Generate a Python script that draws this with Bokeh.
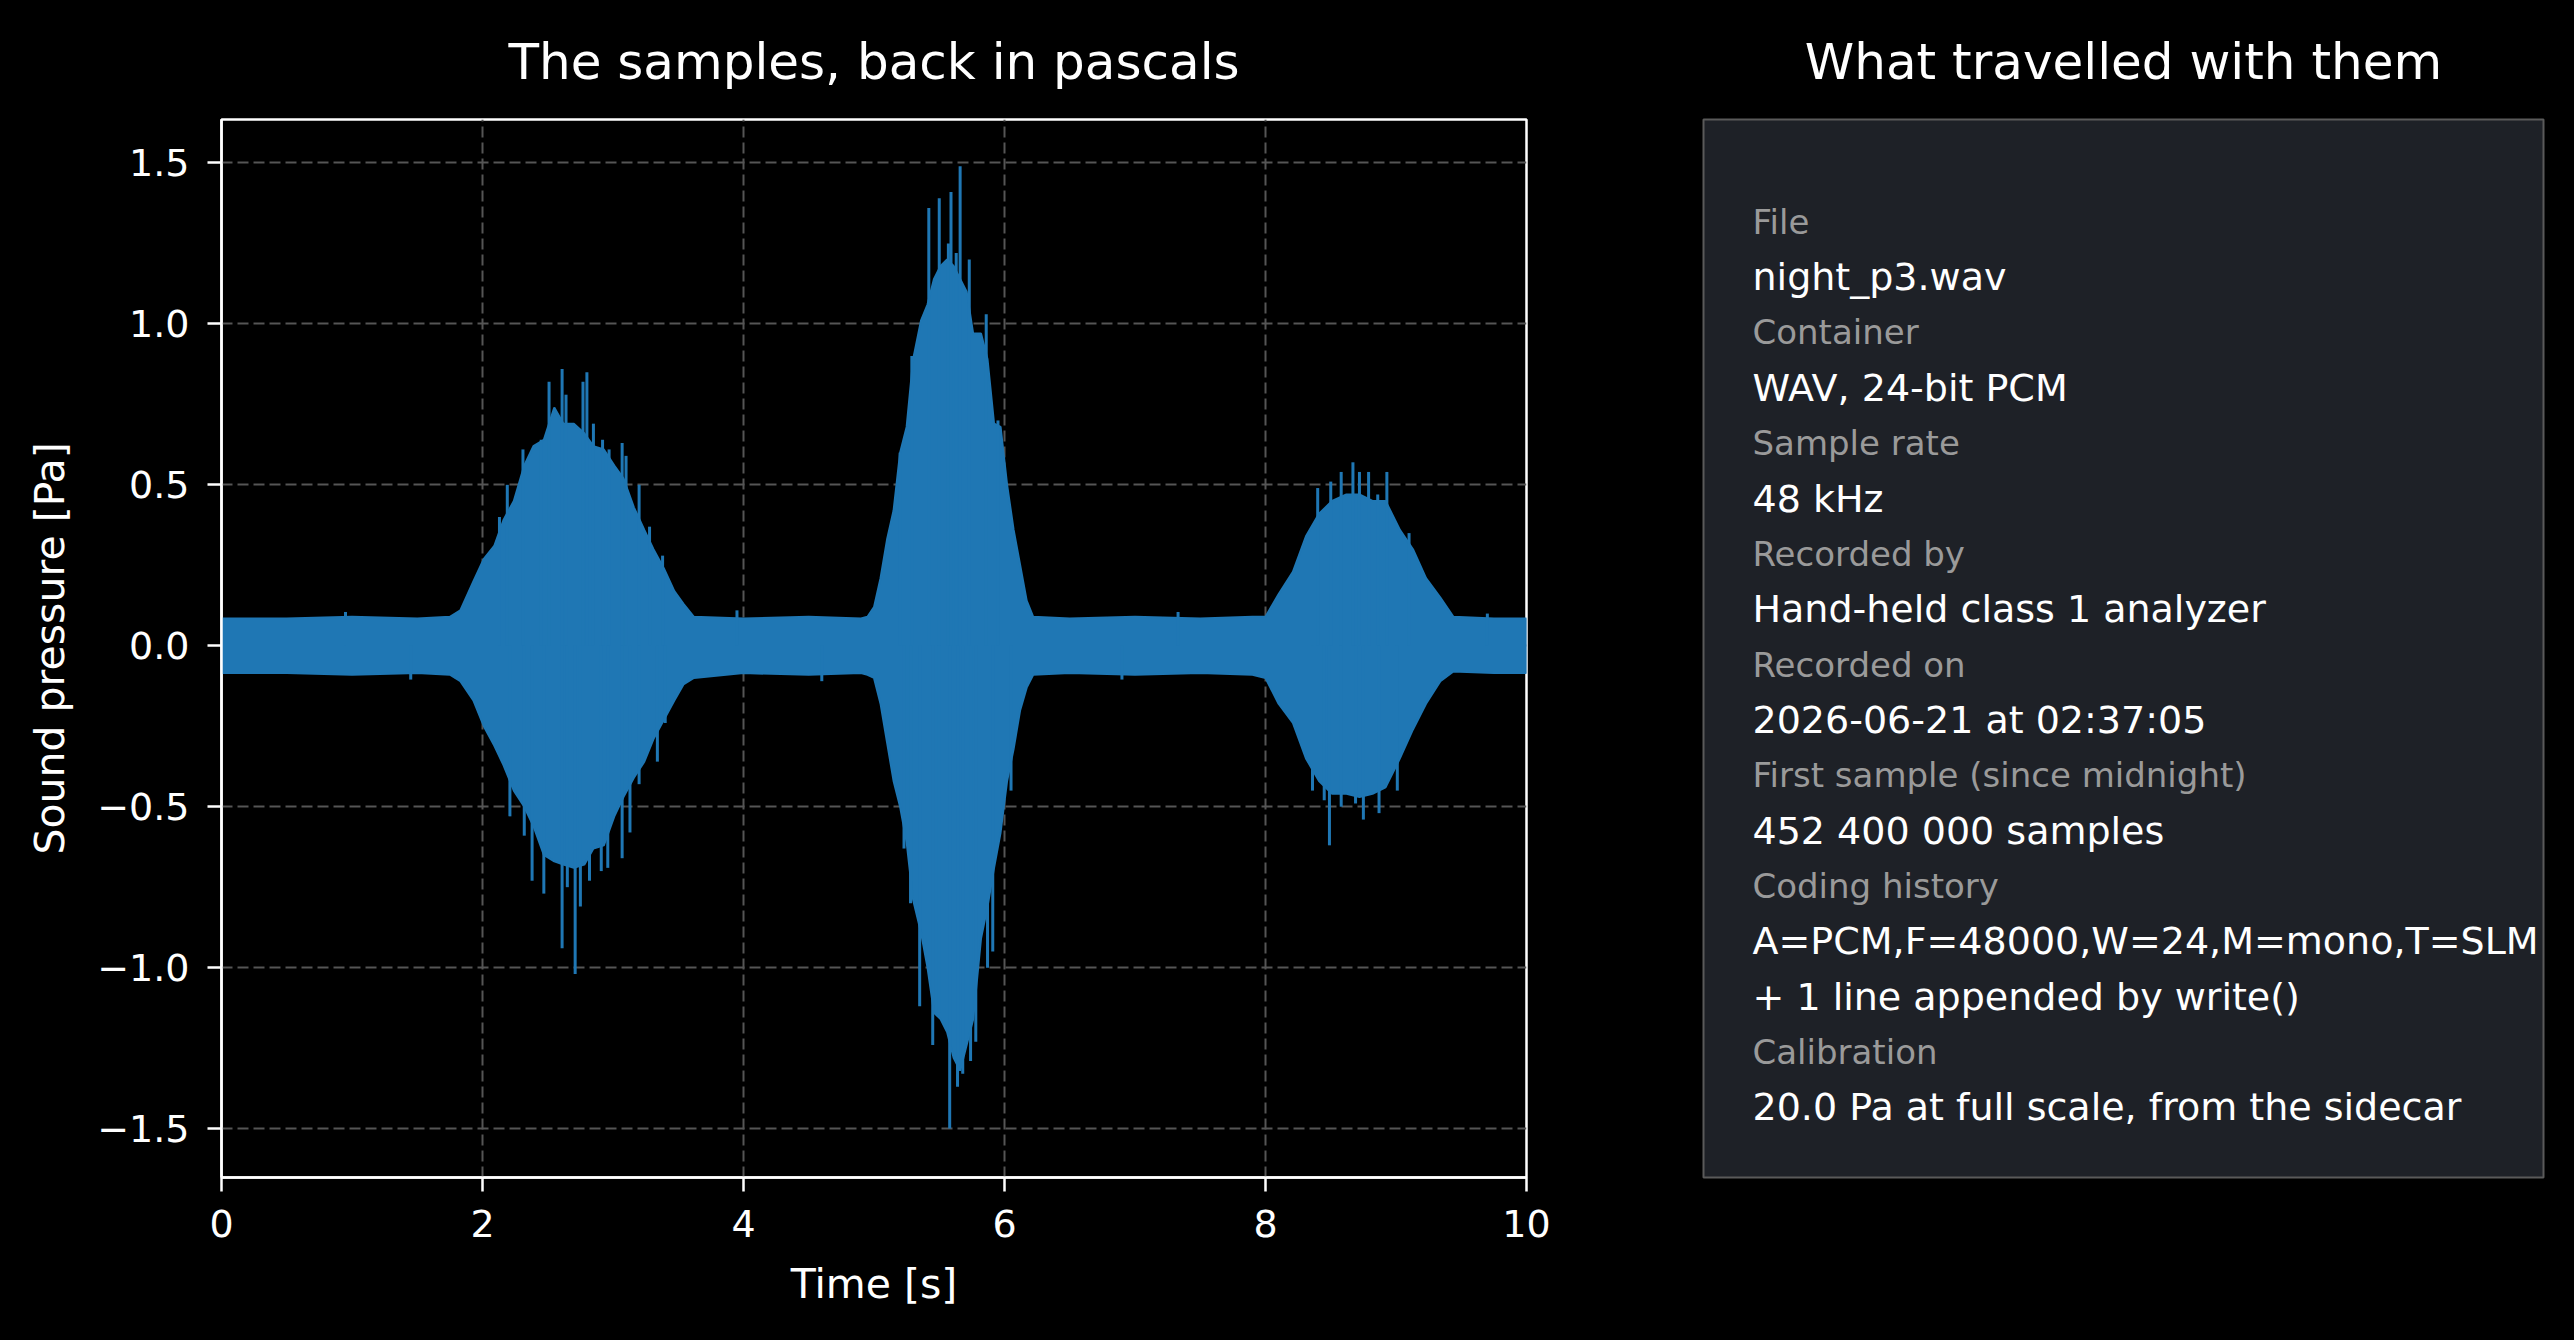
from bokeh.plotting import figure
from bokeh.models import Range1d, FixedTicker, CustomJSTickFormatter, GlobalInlineStyleSheet
from bokeh.layouts import row
from bokeh.core.properties import value
from bokeh.embed import file_html
from bokeh.resources import INLINE

# upper and lower edge of the waveform body
hi_t = [0.0, 0.5, 1.0, 1.5, 1.75,
        1.83, 1.93, 2.01, 2.09, 2.16, 2.24, 2.32, 2.39, 2.47, 2.55, 2.62, 2.70, 2.78, 2.85,
        2.93, 3.01, 3.08, 3.16, 3.24, 3.31, 3.39, 3.47, 3.54, 3.62,
        4.0, 4.5, 4.9,
        4.95, 5.00, 5.05, 5.10, 5.15, 5.20, 5.25, 5.30, 5.36, 5.41, 5.46, 5.51, 5.56, 5.61,
        5.66, 5.71, 5.76, 5.82, 5.87, 5.92, 5.97, 6.02, 6.07, 6.12, 6.17, 6.22,
        6.5, 7.0, 7.5, 7.9,
        8.00, 8.10, 8.21, 8.31, 8.41, 8.51, 8.62, 8.72, 8.82, 8.92, 9.03, 9.13, 9.23, 9.34,
        9.44, 9.75, 10.0]
hi_v = [0.085, 0.085, 0.09, 0.085, 0.09,
        0.11, 0.20, 0.27, 0.31, 0.39, 0.45, 0.56, 0.62, 0.64, 0.74, 0.69, 0.69, 0.66, 0.62,
        0.61, 0.56, 0.52, 0.43, 0.36, 0.30, 0.24, 0.17, 0.13, 0.09,
        0.085, 0.09, 0.085,
        0.09, 0.12, 0.21, 0.33, 0.42, 0.60, 0.68, 0.89, 1.01, 1.06, 1.14, 1.18, 1.20, 1.18,
        1.14, 1.10, 0.97, 0.97, 0.89, 0.69, 0.68, 0.50, 0.36, 0.25, 0.14, 0.09,
        0.085, 0.09, 0.085, 0.09,
        0.09, 0.16, 0.23, 0.34, 0.41, 0.45, 0.47, 0.47, 0.45, 0.45, 0.36, 0.30, 0.21, 0.15,
        0.09, 0.085, 0.085]
lo_t = hi_t
lo_v = [-0.085, -0.085, -0.09, -0.085, -0.09,
        -0.11, -0.17, -0.25, -0.31, -0.37, -0.45, -0.50, -0.56, -0.65, -0.67, -0.68, -0.69, -0.68, -0.63,
        -0.62, -0.53, -0.47, -0.41, -0.36, -0.29, -0.23, -0.17, -0.12, -0.10,
        -0.085, -0.09, -0.085,
        -0.09, -0.10, -0.18, -0.30, -0.42, -0.50, -0.61, -0.79, -0.89, -1.00, -1.14, -1.16, -1.20, -1.28,
        -1.32, -1.24, -1.16, -0.91, -0.81, -0.69, -0.58, -0.42, -0.32, -0.20, -0.13, -0.09,
        -0.085, -0.09, -0.085, -0.09,
        -0.10, -0.18, -0.24, -0.35, -0.42, -0.46, -0.46, -0.47, -0.46, -0.44, -0.35, -0.26, -0.18, -0.11,
        -0.08, -0.085, -0.085]

# single peaks that stick out of the body
spike_t = [2.13, 2.19, 2.31, 2.45, 2.51, 2.61, 2.64, 2.77, 2.80, 2.85, 2.92, 2.97, 3.07, 3.10,
           3.20, 3.28, 3.38,
           2.21, 2.32, 2.38, 2.47, 2.61, 2.65, 2.71, 2.75, 2.82, 2.91, 2.96, 3.07, 3.13, 3.20,
           3.34, 3.40,
           5.20, 5.29, 5.42, 5.50, 5.57, 5.59, 5.63, 5.66, 5.73, 5.86, 5.95,
           5.23, 5.28, 5.35, 5.45, 5.50, 5.58, 5.64, 5.68, 5.74, 5.78, 5.87, 5.91, 6.05,
           8.40, 8.50, 8.58, 8.67, 8.72, 8.79, 8.86, 8.93, 9.10,
           8.36, 8.45, 8.49, 8.58, 8.69, 8.75, 8.87, 9.01,
           0.95, 3.95, 7.33, 9.70, 1.45, 4.60, 6.90]
spike_v = [0.40, 0.50, 0.61, 0.64, 0.82, 0.86, 0.78, 0.82, 0.85, 0.69, 0.64, 0.61, 0.63, 0.59,
           0.50, 0.37, 0.28,
           -0.53, -0.59, -0.73, -0.77, -0.94, -0.75, -1.02, -0.81, -0.73, -0.70, -0.69, -0.66, -0.58, -0.43,
           -0.36, -0.24,
           0.60, 0.90, 1.36, 1.39, 1.25, 1.41, 1.22, 1.49, 1.20, 1.03, 0.70,
           -0.63, -0.80, -1.12, -1.24, -1.14, -1.50, -1.37, -1.33, -1.29, -1.23, -1.00, -0.95, -0.45,
           0.49, 0.51, 0.54, 0.57, 0.54, 0.54, 0.47, 0.54, 0.35,
           -0.45, -0.48, -0.62, -0.50, -0.49, -0.54, -0.52, -0.45,
           0.105, 0.11, 0.105, 0.10, -0.105, -0.11, -0.105]

x_ticks = [0, 2, 4, 6, 8, 10]
y_ticks = [-1.5, -1.0, -0.5, 0.0, 0.5, 1.0, 1.5]

info_labels = ["File", "Container", "Sample rate", "Recorded by", "Recorded on",
               "First sample (since midnight)", "Coding history", "Calibration"]
info_values = [["night_p3.wav"], ["WAV, 24-bit PCM"], ["48 kHz"],
               ["Hand-held class 1 analyzer"], ["2026-06-21 at 02:37:05"],
               ["452 400 000 samples"],
               ["A=PCM,F=48000,W=24,M=mono,T=SLM", "+ 1 line appended by write()"],
               ["20.0 Pa at full scale, from the sidecar"]]

FONT = "DejaVu Sans"
BLUE = "#1f77b4"


def style_title(fig, text):
    fig.title.text = text
    fig.title.align = "center"
    fig.title.text_color = "white"
    fig.title.text_font = FONT
    fig.title.text_font_size = "50px"
    fig.title.text_font_style = "normal"
    fig.title.standoff = 58


# --- left: waveform
p = figure(width=1640, height=1330, output_backend="svg", toolbar_location=None,
           x_range=Range1d(0, 10), y_range=Range1d(-1.652, 1.635),
           min_border_left=221, min_border_right=114, min_border_top=119, min_border_bottom=151)
p.background_fill_color = "black"
p.border_fill_color = "black"
p.outline_line_color = "white"
p.outline_line_width = 2.5
style_title(p, "The samples, back in pascals")

p.patch(x=hi_t + lo_t[::-1], y=hi_v + lo_v[::-1], color=BLUE, line_width=2)
p.segment(x0=spike_t, y0=[0] * len(spike_t), x1=spike_t, y1=spike_v,
          line_color=BLUE, line_width=3)

p.xaxis.ticker = FixedTicker(ticks=x_ticks)
p.yaxis.ticker = FixedTicker(ticks=y_ticks)
p.yaxis.formatter = CustomJSTickFormatter(code="return tick.toFixed(1).replace('-', '\u2212')")
p.xaxis.axis_label = "Time [s]"
p.yaxis.axis_label = "Sound pressure [Pa]"
for ax in (p.xaxis, p.yaxis):
    ax.axis_line_color = "white"
    ax.axis_line_width = 2.5
    ax.major_tick_line_color = "white"
    ax.major_tick_line_width = 2.5
    ax.major_tick_out = 14
    ax.major_tick_in = 0
    ax.minor_tick_line_color = None
    ax.major_label_text_color = "white"
    ax.major_label_text_font = FONT
    ax.major_label_text_font_size = "38px"
    ax.axis_label_text_color = "white"
    ax.axis_label_text_font = FONT
    ax.axis_label_text_font_size = "41px"
    ax.axis_label_text_font_style = "normal"
    ax.axis_label_standoff = 20
p.xaxis.major_label_standoff = 18
p.yaxis.major_label_standoff = 18
p.grid.grid_line_color = "#555555"
p.grid.grid_line_width = 2
p.grid.grid_line_dash = "11 5"

# --- right: metadata panel
q = figure(width=923, height=1330, output_backend="svg", toolbar_location=None,
           x_range=Range1d(0, 840), y_range=Range1d(1059, 0),
           x_axis_location=None, y_axis_location=None,
           min_border_left=63, min_border_right=20, min_border_top=118, min_border_bottom=153)
q.background_fill_color = "#1e2127"
q.border_fill_color = "black"
q.outline_line_color = "#5a5a5a"
q.outline_line_width = 2
q.grid.visible = False
style_title(q, "What travelled with them")

lab_y, lab_t, val_y, val_t = [], [], [], []
line = 0
for lab, vals in zip(info_labels, info_values):
    lab_y.append(102.4 + line * 55.4)
    lab_t.append(lab)
    line += 1
    for v in vals:
        val_y.append(102.4 + line * 55.4)
        val_t.append(v)
        line += 1

q.text(x=[49] * len(lab_y), y=lab_y, text=lab_t, text_font=value(FONT),
       text_font_size="34px", text_color="#9a9a9a", text_baseline="alphabetic")
q.text(x=[49] * len(val_y), y=val_y, text=val_t, text_font=value(FONT),
       text_font_size="38px", text_color="white", text_baseline="alphabetic")

layout = row(p, q, stylesheets=[GlobalInlineStyleSheet(css="html, body { background-color: black; }")])
open("out.html", "w").write(file_html(layout, INLINE))
